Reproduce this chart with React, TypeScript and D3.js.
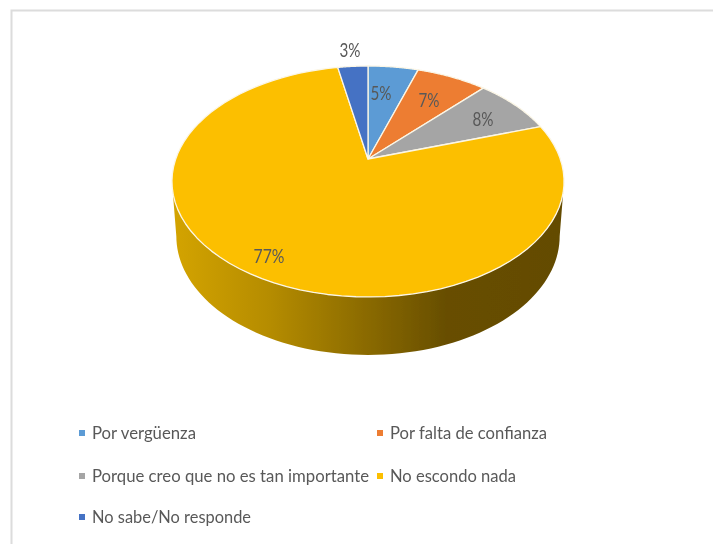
import React from "react";
import * as d3 from "d3";

const categories = ["Por vergüenza", "Por falta de confianza", "Porque creo que no es tan importante", "No escondo nada", "No sabe/No responde"];
const values = [5, 7, 8, 77, 3];
const colors = ["#5b9bd5", "#ed7d31", "#a5a5a5", "#fcbf00", "#4472c4"];

// layout
const W = 713, H = 544;
const labelPos: [number, number][] = [[381, 100], [429, 107], [483, 126], [269, 263], [350, 57]];
const legendPos: [number, number, number][] = [[79, 433, 104], [377, 433, 157], [79, 476, 277], [377, 476, 126], [79, 517, 159]];

const K = 0.1948;
const project = (A: number, B: number, cx: number, cy: number) => (t: number): [number, number] => {
  const u = Math.sin(t), v = Math.cos(t), d = 1 + K * v;
  return [cx + (A * u) / d, cy - (B * v) / d];
};
const topRim = project(192.3, 111.1, 368, 159);
const baseRim = project(188, 114.3, 368, 213);

const sample = (f: (t: number) => [number, number], a: number, b: number) =>
  d3.range(0, 81).map((i) => f(a + ((b - a) * i) / 80));

export default function App() {
  const arcs = d3.pie<number>().sort(null)(values);
  const line = d3.line();
  const a0 = Math.acos(-K);
  const wall = [...sample(topRim, a0, 2 * Math.PI - a0), ...sample(baseRim, 2 * Math.PI - a0, a0)];
  return (
    <svg width={W} height={H} style={{ position: "fixed", left: 0, top: 0, background: "#fff" }} fontFamily="Lato, 'Open Sans', sans-serif">
      <defs>
        <linearGradient id="wall" gradientUnits="userSpaceOnUse" x1={172} x2={564} y1={0} y2={0}>
          <stop offset="0" stopColor="#d4a400" />
          <stop offset="0.25" stopColor="#b58c00" />
          <stop offset="0.7" stopColor="#674e00" />
          <stop offset="1" stopColor="#644b00" />
        </linearGradient>
        <filter id="soft" x="-5%" y="-5%" width="110%" height="110%">
          <feGaussianBlur stdDeviation="0.55" />
        </filter>
      </defs>
      <path d="M11.5 544V10.5H713" fill="none" stroke="#dcdcdc" strokeWidth={2} />
      <g filter="url(#soft)">
        <path d={line(wall) + "Z"} fill="url(#wall)" />
        {arcs.map((s, i) => (
          <path
            key={i}
            d={line([[368, 159], ...sample(topRim, s.startAngle, s.endAngle)]) + "Z"}
            fill={colors[i]}
            stroke="#fbf6e6"
            strokeWidth={1.3}
            strokeLinejoin="round"
          />
        ))}
        {arcs.map((s, i) => (
          <text key={i} x={labelPos[i][0]} y={labelPos[i][1]} textAnchor="middle" fontSize={20} fill="#595959" textLength={i === 3 ? 31 : 21} lengthAdjust="spacingAndGlyphs">
            {`${values[i]}%`}
          </text>
        ))}
        {categories.map((c, i) => (
          <g key={c}>
            <rect x={legendPos[i][0]} y={legendPos[i][1] - 3} width={6} height={6} fill={colors[i]} />
            <text x={legendPos[i][0] + 13} y={legendPos[i][1] + 6} fontSize={18} fill="#595959" textLength={legendPos[i][2]} lengthAdjust="spacingAndGlyphs">
              {c}
            </text>
          </g>
        ))}
      </g>
    </svg>
  );
}
